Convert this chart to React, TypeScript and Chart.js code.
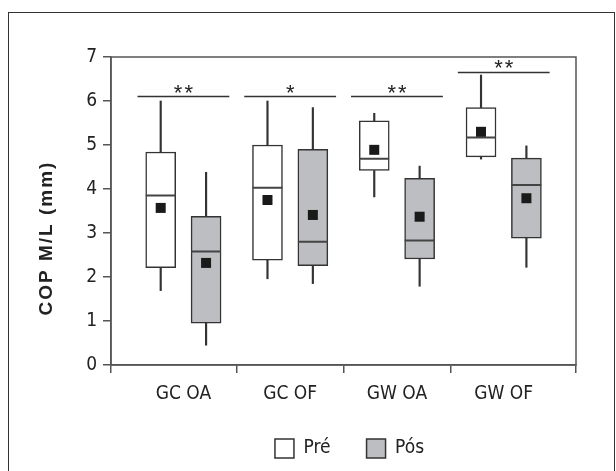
import { useEffect, useRef } from 'react';
import { Chart, registerables } from 'chart.js';

Chart.register(...registerables);

// ---------- data ----------
const categories = ['GC OA', 'GC OF', 'GW OA', 'GW OF'];
const seriesLabels = ['Pré', 'Pós'];

const preMin = [1.69, 1.96, 3.82, 4.68];
const preQ1 = [2.21, 2.38, 4.42, 4.73];
const preMedian = [3.85, 4.03, 4.69, 5.17];
const preQ3 = [4.84, 5.0, 5.55, 5.85];
const preMax = [6.0, 6.0, 5.72, 6.59];
const preMean = [3.57, 3.75, 4.89, 5.3];

const posMin = [0.45, 1.85, 1.79, 2.22];
const posQ1 = [0.95, 2.26, 2.41, 2.88];
const posMedian = [2.58, 2.8, 2.83, 4.09];
const posQ3 = [3.38, 4.9, 4.24, 4.7];
const posMax = [4.38, 5.85, 4.52, 4.98];
const posMean = [2.32, 3.41, 3.37, 3.79];

const sigMarks = ['**', '*', '**', '**'];
const sigLevels = [6.1, 6.1, 6.1, 6.65];

const yTicks = [0, 1, 2, 3, 4, 5, 6, 7];
const yTitle = 'COP M/L (mm)';

// ---------- layout / style constants ----------
const X_MIN = 0.322;
const X_MAX = 4.677;
const xTickValues = [X_MIN, 1, 1.5, 2, 2.5, 3, 3.5, 4, X_MAX];
const OFFSET = 0.2125; // box offset from group centre (x units)
const HALF_BOX = 0.14; // half box width (x units)
const SIG_HALF = 0.43; // half length of significance bar (x units)

const FONT = "'Liberation Sans Narrow', 'DejaVu Sans Condensed', 'Arial Narrow', sans-serif";
const DARK = '#333333';
const AXIS = '#555555';
const TEXT = '#222222';
const GRAY = '#bdbec1';

const series = [
  { label: seriesLabels[0], min: preMin, q1: preQ1, med: preMedian, q3: preQ3, max: preMax, mean: preMean, fill: '#ffffff', side: -1 },
  { label: seriesLabels[1], min: posMin, q1: posQ1, med: posMedian, q3: posQ3, max: posMax, mean: posMean, fill: GRAY, side: 1 },
];

const xPos = (i: number, side: number) => i + 1 + side * OFFSET;

const decorations = {
  id: 'decorations',
  beforeDraw(chart: any) {
    const ctx = chart.ctx;
    // nudge the legend slightly to the right, as in the reference
    if (chart.legend) {
      chart.legend.left = chart.chartArea.left + 6;
      chart.legend.right = chart.chartArea.right + 6;
    }
    ctx.save();
    ctx.strokeStyle = DARK;
    ctx.lineWidth = 1;
    ctx.strokeRect(8.5, 12.5, 606, 520);
    ctx.restore();
  },
  afterDraw(chart: any) {
    const { ctx, chartArea, scales } = chart;
    const xs = scales.x;
    const ys = scales.y;
    ctx.save();
    // plot frame
    ctx.strokeStyle = AXIS;
    ctx.lineWidth = 1.5;
    ctx.strokeRect(chartArea.left, chartArea.top, chartArea.right - chartArea.left, chartArea.bottom - chartArea.top);
    // significance marks
    ctx.fillStyle = TEXT;
    ctx.font = "22px 'Liberation Sans', Arial, sans-serif";
    ctx.textAlign = 'center';
    ctx.textBaseline = 'alphabetic';
    try { (ctx as any).letterSpacing = '2px'; } catch (e) {}
    sigMarks.forEach((m, i) => {
      const x = xs.getPixelForValue(i + 1) + 1;
      const y = ys.getPixelForValue(sigLevels[i]) + 3;
      ctx.fillText(m, x, y);
    });
    // y axis title
    try { (ctx as any).letterSpacing = '2px'; } catch (e) {}
    ctx.font = "bold 19px 'Liberation Sans', Arial, sans-serif";
    ctx.translate(chartArea.left - 64, (chartArea.top + chartArea.bottom) / 2 + 27);
    ctx.rotate(-Math.PI / 2);
    ctx.textBaseline = 'middle';
    ctx.fillText(yTitle, 0, 0);
    ctx.restore();
  },
};

export default function App() {
  const ref = useRef<HTMLCanvasElement | null>(null);

  useEffect(() => {
    if (!ref.current) return;

    const boxSets = series.map((s) => ({
      type: 'bar' as const,
      label: s.label,
      data: categories.map((_, i) => ({ x: xPos(i, s.side), y: [s.q1[i], s.q3[i]] })),
      backgroundColor: s.fill,
      borderColor: DARK,
      borderWidth: 1.5,
      borderSkipped: false,
      barThickness: 30,
      grouped: false,
      order: 3,
    }));

    const whiskerData: any[] = [];
    series.forEach((s) => {
      categories.forEach((_, i) => {
        whiskerData.push({ x: xPos(i, s.side), y: [s.min[i], s.q1[i]] });
        whiskerData.push({ x: xPos(i, s.side), y: [s.q3[i], s.max[i]] });
      });
    });

    const medianData: any[] = [];
    series.forEach((s) => {
      categories.forEach((_, i) => {
        const p = xPos(i, s.side);
        medianData.push({ x: p - HALF_BOX, y: s.med[i] });
        medianData.push({ x: p + HALF_BOX, y: s.med[i] });
        medianData.push({ x: p, y: null });
      });
    });

    const meanData: any[] = [];
    series.forEach((s) => {
      categories.forEach((_, i) => {
        meanData.push({ x: xPos(i, s.side), y: s.mean[i] });
      });
    });

    const sigData: any[] = [];
    categories.forEach((_, i) => {
      sigData.push({ x: i + 1 - SIG_HALF, y: sigLevels[i] });
      sigData.push({ x: i + 1 + SIG_HALF, y: sigLevels[i] });
      sigData.push({ x: i + 1, y: null });
    });

    const chart = new Chart(ref.current, {
      type: 'bar',
      data: {
        datasets: [
          ...boxSets,
          {
            type: 'bar',
            label: 'whiskers',
            data: whiskerData,
            backgroundColor: DARK,
            borderWidth: 0,
            barThickness: 1.5,
            grouped: false,
            order: 5,
          },
          {
            type: 'line',
            label: 'medians',
            data: medianData,
            borderColor: '#444444',
            borderWidth: 2,
            pointRadius: 0,
            spanGaps: false,
            order: 2,
          },
          {
            type: 'line',
            label: 'means',
            data: meanData,
            showLine: false,
            pointStyle: 'rect',
            pointRadius: 7.07,
            backgroundColor: '#1a1a1a',
            borderWidth: 0,
            order: 1,
          },
          {
            type: 'line',
            label: 'significance',
            data: sigData,
            borderColor: DARK,
            borderWidth: 1.5,
            pointRadius: 0,
            spanGaps: false,
            order: 2,
          },
        ] as any,
      },
      options: {
        animation: false,
        responsive: false,
        events: [],
        layout: { padding: { top: 57, right: 40, bottom: 3, left: 0 } },
        scales: {
          x: {
            type: 'linear',
            min: X_MIN,
            max: X_MAX,
            offset: false,
            afterBuildTicks: (s: any) => {
              s.ticks = xTickValues.map((v) => ({ value: v }));
            },
            afterFit: (s: any) => {
              s.height = 38;
            },
            ticks: {
              autoSkip: false,
              maxRotation: 0,
              padding: 10,
              color: TEXT,
              font: { family: FONT, size: 19 },
              callback: (v: any) => (Number.isInteger(v) ? categories[v - 1] : ''),
            },
            grid: {
              offset: false,
              drawOnChartArea: false,
              drawTicks: true,
              tickLength: 8,
              color: AXIS,
              lineWidth: 1.5,
              tickColor: (c: any) => (c.tick && Number.isInteger(c.tick.value) ? 'rgba(0,0,0,0)' : AXIS),
            },
            border: { display: true, color: AXIS, width: 1.5 },
          },
          y: {
            type: 'linear',
            min: 0,
            max: 7,
            afterBuildTicks: (s: any) => {
              s.ticks = yTicks.map((v) => ({ value: v }));
            },
            afterFit: (s: any) => {
              s.width = 111;
            },
            ticks: {
              padding: 6,
              color: TEXT,
              font: { family: FONT, size: 19 },
            },
            grid: {
              drawOnChartArea: false,
              drawTicks: true,
              tickLength: 8,
              color: AXIS,
              lineWidth: 1.5,
            },
            border: { display: true, color: AXIS, width: 1.5 },
          },
        },
        plugins: {
          legend: {
            position: 'bottom',
            fullSize: false,
            labels: {
              filter: (item: any) => item.datasetIndex < 2,
              boxWidth: 19,
              boxHeight: 19,
              padding: 36,
              color: TEXT,
              font: { family: FONT, size: 19 },
            },
          },
          tooltip: { enabled: false },
        },
      } as any,
      plugins: [decorations],
    });

    return () => chart.destroy();
  }, []);

  return (
    <canvas
      ref={ref}
      width={616}
      height={471}
      style={{ position: 'fixed', left: 0, top: 0, display: 'block' }}
    />
  );
}
